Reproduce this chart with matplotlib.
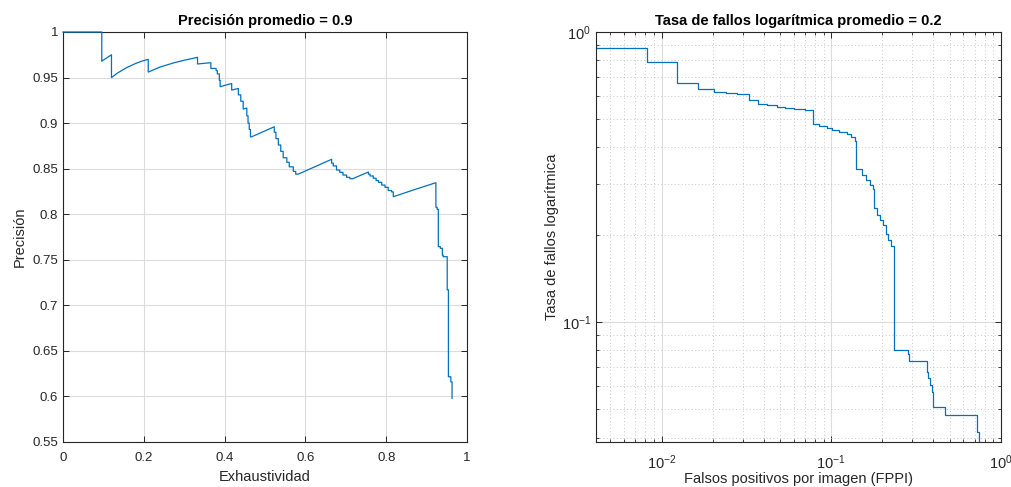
import matplotlib
matplotlib.use("Agg")
import matplotlib.pyplot as plt
from matplotlib.ticker import LogLocator, LogFormatterMathtext, NullFormatter, FixedLocator

plt.rcParams['font.family'] = ['Liberation Sans', 'DejaVu Sans']

# ---------------- data: precision / recall ----------------
recall = [0.0, 0.096, 0.096, 0.12, 0.12, 0.135, 0.158, 0.18, 0.195, 0.211,
          0.211, 0.24, 0.273, 0.30, 0.333, 0.333, 0.366, 0.366, 0.379, 0.379,
          0.382, 0.382, 0.387, 0.387, 0.389, 0.389, 0.4175, 0.4175, 0.434, 0.434,
          0.440, 0.440, 0.446, 0.446, 0.455, 0.455, 0.458, 0.458, 0.461, 0.461,
          0.464, 0.464, 0.467, 0.523, 0.523, 0.527, 0.527, 0.533, 0.533, 0.539,
          0.539, 0.545, 0.545, 0.554, 0.554, 0.560, 0.560, 0.570, 0.570, 0.576,
          0.576, 0.5825, 0.665, 0.665, 0.669, 0.669, 0.677, 0.677, 0.685, 0.685,
          0.693, 0.693, 0.702, 0.702, 0.710, 0.710, 0.717, 0.756, 0.756, 0.760,
          0.760, 0.768, 0.768, 0.775, 0.775, 0.781, 0.781, 0.789, 0.789, 0.797,
          0.797, 0.805, 0.805, 0.8135, 0.8135, 0.8175, 0.8175, 0.87, 0.923, 0.923,
          0.926, 0.926, 0.929, 0.929, 0.934, 0.934, 0.939, 0.939, 0.941, 0.941,
          0.951, 0.951, 0.954, 0.954, 0.960, 0.960, 0.963, 0.963]
precision = [1.0, 1.0, 0.968, 0.975, 0.950, 0.955, 0.961, 0.9655, 0.968, 0.970,
             0.956, 0.9615, 0.966, 0.969, 0.9722, 0.9649, 0.9663, 0.960, 0.960, 0.9575,
             0.9575, 0.954, 0.954, 0.947, 0.947, 0.940, 0.9435, 0.9363, 0.938, 0.931,
             0.931, 0.924, 0.924, 0.9155, 0.9165, 0.908, 0.908, 0.900, 0.900, 0.893,
             0.893, 0.885, 0.885, 0.896, 0.890, 0.890, 0.883, 0.883, 0.876, 0.876,
             0.869, 0.869, 0.862, 0.862, 0.857, 0.857, 0.852, 0.852, 0.847, 0.847,
             0.844, 0.844, 0.8603, 0.856, 0.856, 0.853, 0.853, 0.8485, 0.8485, 0.846,
             0.846, 0.843, 0.843, 0.8405, 0.8405, 0.839, 0.839, 0.8463, 0.844, 0.844,
             0.842, 0.842, 0.8395, 0.8395, 0.837, 0.837, 0.835, 0.835, 0.832, 0.832,
             0.8295, 0.8295, 0.826, 0.826, 0.8245, 0.8245, 0.8192, 0.827, 0.8346, 0.8076,
             0.8076, 0.8054, 0.8054, 0.7644, 0.7644, 0.7626, 0.7626, 0.7552, 0.7552, 0.7534,
             0.7534, 0.717, 0.717, 0.6216, 0.6216, 0.616, 0.616, 0.598]

# ---------------- data: miss rate vs FPPI ----------------
fppi = [0.00411, 0.00411, 0.0082, 0.0123, 0.0164, 0.0205, 0.024, 0.028, 0.0327,
        0.0368, 0.042, 0.048, 0.0537, 0.06, 0.07, 0.078, 0.085, 0.095, 0.1016,
        0.1104, 0.124, 0.131, 0.1385, 0.140, 0.152, 0.161, 0.170, 0.176, 0.179,
        0.185, 0.194, 0.202, 0.210, 0.216, 0.224, 0.235, 0.284, 0.288, 0.368,
        0.373, 0.381, 0.390, 0.398, 0.468, 0.720, 0.745, 0.79]
miss_rate = [0.897, 0.881, 0.79, 0.668, 0.636, 0.62, 0.616, 0.612, 0.583,
             0.565, 0.56, 0.553, 0.547, 0.544, 0.540, 0.48, 0.475, 0.466, 0.46,
             0.453, 0.445, 0.433, 0.421, 0.336, 0.321, 0.309, 0.297, 0.287, 0.247,
             0.234, 0.225, 0.216, 0.202, 0.192, 0.183, 0.080, 0.0775, 0.0736, 0.0674,
             0.064, 0.0607, 0.0575, 0.051, 0.048, 0.0417, 0.0383, 0.0383]

left_title = "Precisión promedio = 0.9"
right_title = "Tasa de fallos logarítmica promedio = 0.2"
left_xlabel = "Exhaustividad"
left_ylabel = "Precisión"
right_xlabel = "Falsos positivos por imagen (FPPI)"
right_ylabel = "Tasa de fallos logarítmica"
left_xticks = [0, 0.2, 0.4, 0.6, 0.8, 1]
left_xticklabels = ["0", "0.2", "0.4", "0.6", "0.8", "1"]
left_yticks = [0.55, 0.6, 0.65, 0.7, 0.75, 0.8, 0.85, 0.9, 0.95, 1]
left_yticklabels = ["0.55", "0.6", "0.65", "0.7", "0.75", "0.8", "0.85", "0.9", "0.95", "1"]

LINE = '#0072BD'
AXC = '#262626'
GRID = '#dcdcdc'

fig = plt.figure(figsize=(10.12, 4.87), dpi=100)
W, H = 1012, 487
ax1 = fig.add_axes([63 / W, (H - 442) / H, 404 / W, 410 / H])
ax2 = fig.add_axes([596 / W, (H - 442) / H, 405 / W, 410 / H])

for ax in (ax1, ax2):
    for s in ax.spines.values():
        s.set_color(AXC)
        s.set_linewidth(0.8)
    ax.tick_params(which='both', direction='in', top=True, right=True,
                   colors=AXC, labelsize=9.5, labelcolor=AXC)
    ax.tick_params(which='major', length=4, width=0.7)
    ax.tick_params(which='minor', length=2.5, width=0.6)
    ax.set_axisbelow(True)

# left
ax1.plot(recall, precision, color=LINE, lw=0.9, clip_on=False, zorder=5)
ax1.set_xlim(0, 1)
ax1.set_ylim(0.55, 1)
ax1.set_xticks(left_xticks)
ax1.set_xticklabels(left_xticklabels)
ax1.set_yticks(left_yticks)
ax1.set_yticklabels(left_yticklabels)
ax1.tick_params(axis='x', which='major', pad=7.5)
ax1.grid(True, color=GRID, lw=0.8)
ax1.set_title(left_title, fontsize=10.5, fontweight='bold', color='black', pad=5)
ax1.set_xlabel(left_xlabel, fontsize=10.5, color=AXC, labelpad=4)
ax1.set_ylabel(left_ylabel, fontsize=10.5, color=AXC, labelpad=4)

# right
ax2.step(fppi, miss_rate, where='post', color=LINE, lw=0.9)
ax2.set_xscale('log')
ax2.set_yscale('log')
ax2.set_xlim(0.00411, 1)
ax2.set_ylim(0.0386, 1)
ax2.xaxis.set_major_locator(FixedLocator([0.01, 0.1, 1]))
ax2.yaxis.set_major_locator(FixedLocator([0.1, 1]))
ax2.xaxis.set_major_formatter(LogFormatterMathtext())
ax2.yaxis.set_major_formatter(LogFormatterMathtext())
ax2.xaxis.set_minor_locator(LogLocator(base=10, subs=range(2, 10), numticks=20))
ax2.yaxis.set_minor_locator(LogLocator(base=10, subs=range(2, 10), numticks=20))
ax2.xaxis.set_minor_formatter(NullFormatter())
ax2.yaxis.set_minor_formatter(NullFormatter())
ax2.tick_params(axis='x', which='major', pad=8, labelsize=10.5)
ax2.tick_params(axis='y', which='major', labelsize=10.5)
ax2.grid(True, which='major', color=GRID, lw=0.8)
ax2.grid(True, which='minor', color='#c8c8c8', lw=0.7, linestyle=(0, (1, 2.5)))
ax2.set_title(right_title, fontsize=10.5, fontweight='bold', color='black', pad=5)
ax2.set_xlabel(right_xlabel, fontsize=10.5, color=AXC, labelpad=0)
ax2.set_ylabel(right_ylabel, fontsize=10.5, color=AXC, labelpad=2)

fig.savefig('out.png', dpi=100)
